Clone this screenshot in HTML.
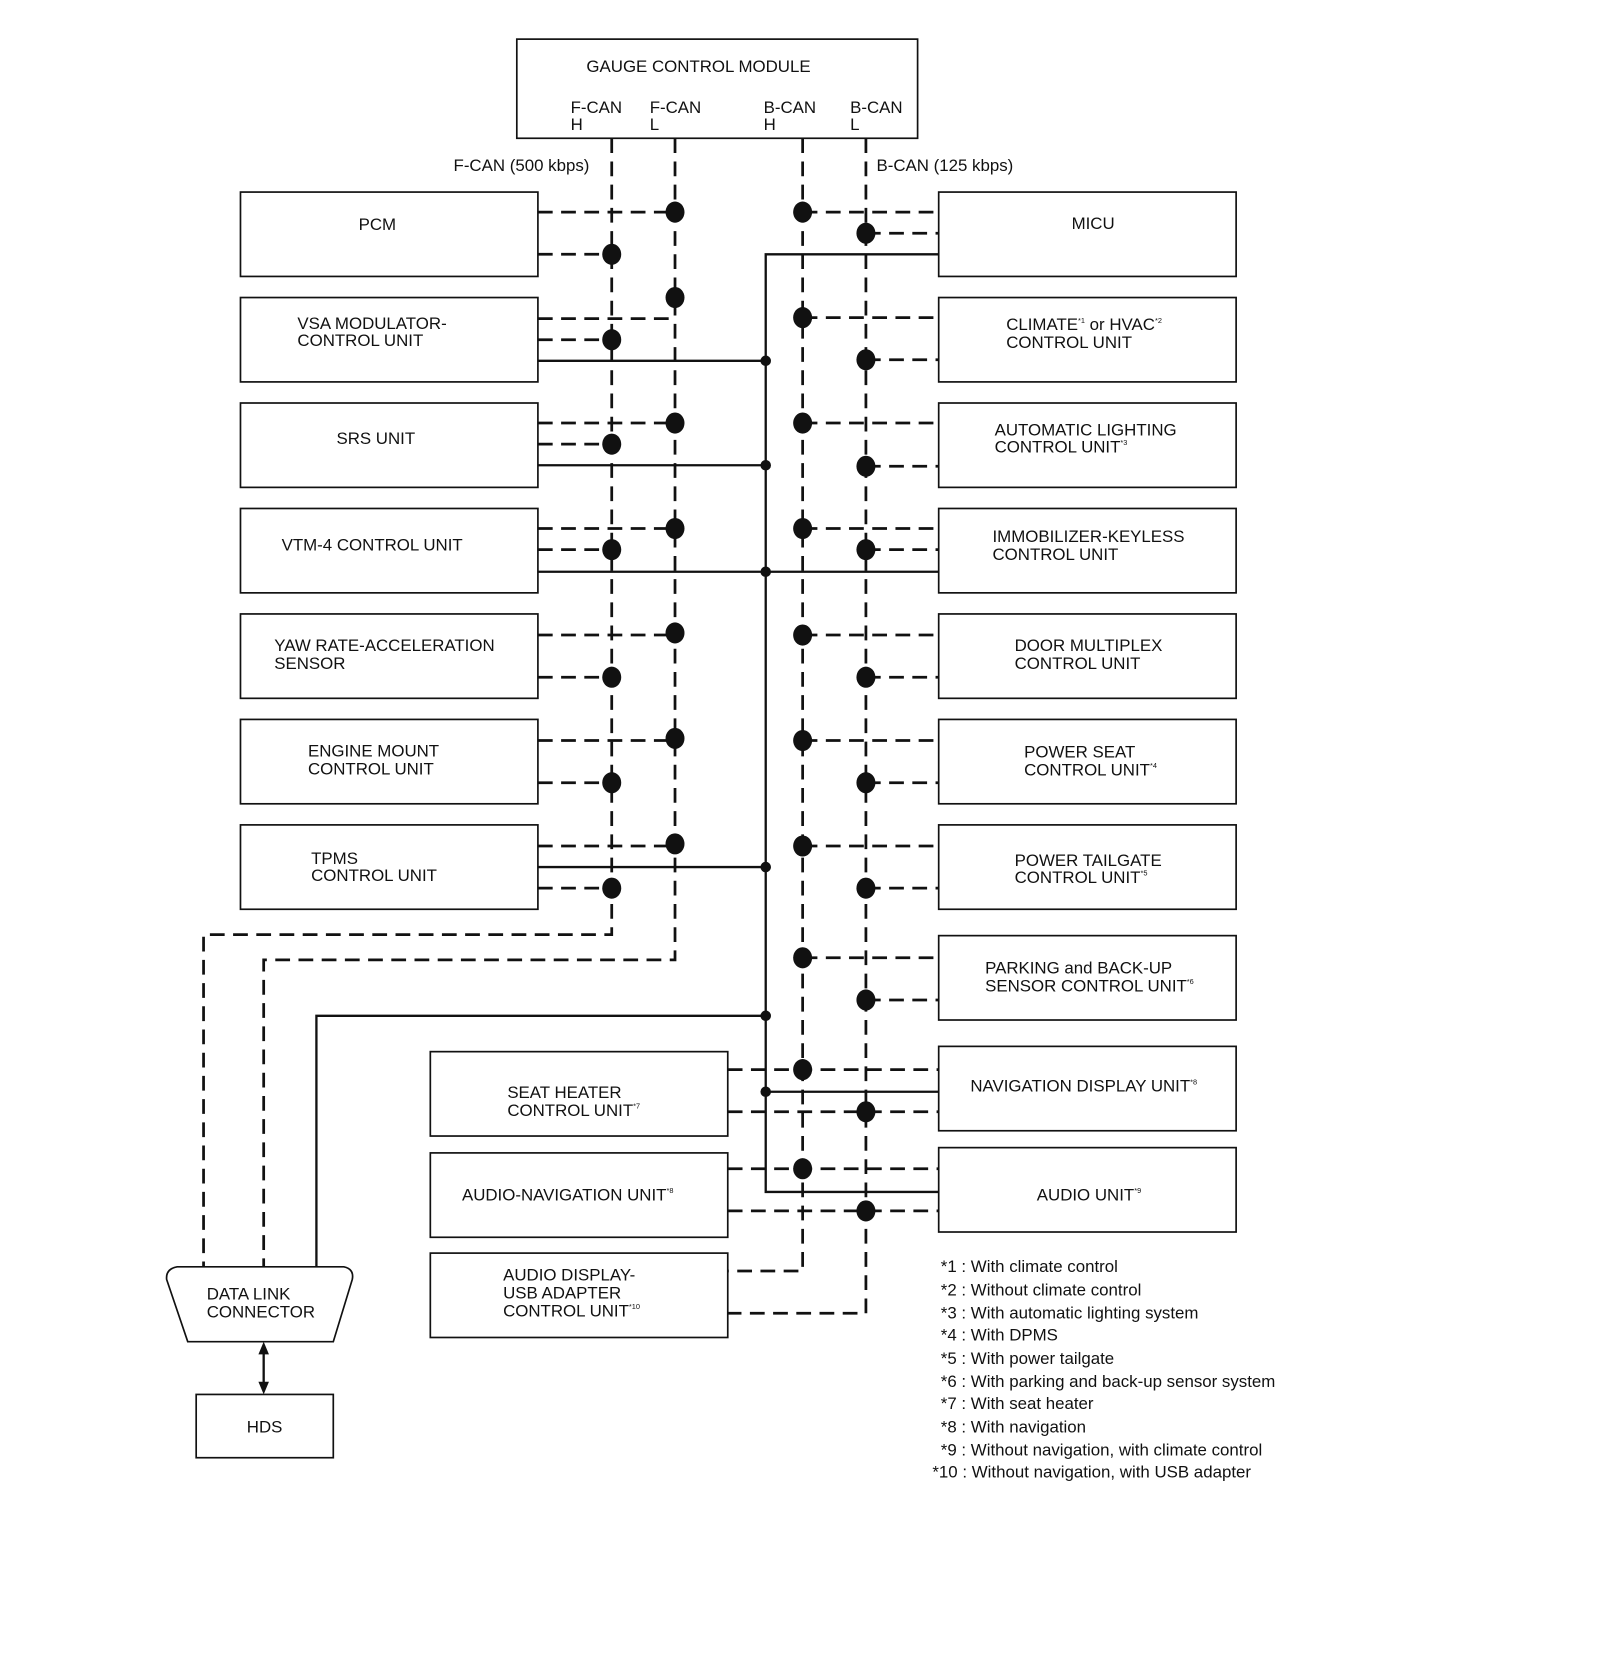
<!DOCTYPE html>
<html><head><meta charset="utf-8"><style>
html,body{margin:0;padding:0;background:#fff;}
svg{display:block;}
text{font-family:"Liberation Sans",Arial,sans-serif;font-size:16px;fill:#111;}
.s{font-size:7px;}
</style></head><body>
<svg width="1600" height="1654" viewBox="0 0 1517 1568" xmlns="http://www.w3.org/2000/svg">
<g fill="none" stroke="#111" stroke-width="1.6">
<rect x="490" y="37" width="380" height="94"/>
<rect x="228" y="182" width="282" height="80"/>
<rect x="228" y="282" width="282" height="80"/>
<rect x="228" y="382" width="282" height="80"/>
<rect x="228" y="482" width="282" height="80"/>
<rect x="228" y="582" width="282" height="80"/>
<rect x="228" y="682" width="282" height="80"/>
<rect x="228" y="782" width="282" height="80"/>
<rect x="890" y="182" width="282" height="80"/>
<rect x="890" y="282" width="282" height="80"/>
<rect x="890" y="382" width="282" height="80"/>
<rect x="890" y="482" width="282" height="80"/>
<rect x="890" y="582" width="282" height="80"/>
<rect x="890" y="682" width="282" height="80"/>
<rect x="890" y="782" width="282" height="80"/>
<rect x="890" y="887" width="282" height="80"/>
<rect x="890" y="992" width="282" height="80"/>
<rect x="890" y="1088" width="282" height="80"/>
<rect x="408" y="997" width="282" height="80"/>
<rect x="408" y="1093" width="282" height="80"/>
<rect x="408" y="1188" width="282" height="80"/>
<rect x="186" y="1322" width="130" height="60"/>
<path d="M168 1201 L326 1201 Q336 1203 334 1213 L316 1272 L178 1272 L158 1213 Q157 1203 168 1201 Z"/>
</g>
<!-- dashed -->
<g fill="none" stroke="#111" stroke-width="2.6" stroke-dasharray="14 8">
<path d="M580 131 V886 H193 V1201"/>
<path d="M640 131 V910 H250 V1201"/>
<path d="M761 131 V1205 H690"/>
<path d="M821 131 V1245 H690"/>
<!-- left boxes -->
<path d="M510 201 H640 M510 241 H580"/>
<path d="M510 302 H640 M510 322 H580"/>
<path d="M510 401 H640 M510 421 H580"/>
<path d="M510 501 H640 M510 521 H580"/>
<path d="M510 602 H640 M510 642 H580"/>
<path d="M510 702 H640 M510 742 H580"/>
<path d="M510 802 H640 M510 842 H580"/>
<!-- right boxes -->
<path d="M761 201 H890 M821 221 H890"/>
<path d="M761 301 H890 M821 341 H890"/>
<path d="M761 401 H890 M821 442 H890"/>
<path d="M761 501 H890 M821 521 H890"/>
<path d="M761 602 H890 M821 642 H890"/>
<path d="M761 702 H890 M821 742 H890"/>
<path d="M761 802 H890 M821 842 H890"/>
<path d="M761 908 H890 M821 948 H890"/>
<path d="M690 1014 H890 M690 1054 H890"/>
<path d="M690 1108 H890 M690 1148 H890"/>
</g>
<!-- solid -->
<g fill="none" stroke="#111" stroke-width="2.2">
<path d="M890 241 H726 V1130 H890"/>
<path d="M510 342 H726 M510 441 H726 M510 542 H890 M510 822 H726 M726 1035 H890"/>
<path d="M726 963 H300 V1201"/>
<path d="M250 1280 V1314"/>
</g>
<path d="M250 1272 L245 1284 L255 1284 Z M250 1322 L245 1310 L255 1310 Z" fill="#111"/>
<g fill="#111">
<ellipse cx="640" cy="201" rx="9" ry="10"/><ellipse cx="580" cy="241" rx="9" ry="10"/>
<ellipse cx="640" cy="282" rx="9" ry="10"/><ellipse cx="580" cy="322" rx="9" ry="10"/>
<ellipse cx="640" cy="401" rx="9" ry="10"/><ellipse cx="580" cy="421" rx="9" ry="10"/>
<ellipse cx="640" cy="501" rx="9" ry="10"/><ellipse cx="580" cy="521" rx="9" ry="10"/>
<ellipse cx="640" cy="600" rx="9" ry="10"/><ellipse cx="580" cy="642" rx="9" ry="10"/>
<ellipse cx="640" cy="700" rx="9" ry="10"/><ellipse cx="580" cy="742" rx="9" ry="10"/>
<ellipse cx="640" cy="800" rx="9" ry="10"/><ellipse cx="580" cy="842" rx="9" ry="10"/>
<ellipse cx="761" cy="201" rx="9" ry="10"/><ellipse cx="821" cy="221" rx="9" ry="10"/>
<ellipse cx="761" cy="301" rx="9" ry="10"/><ellipse cx="821" cy="341" rx="9" ry="10"/>
<ellipse cx="761" cy="401" rx="9" ry="10"/><ellipse cx="821" cy="442" rx="9" ry="10"/>
<ellipse cx="761" cy="501" rx="9" ry="10"/><ellipse cx="821" cy="521" rx="9" ry="10"/>
<ellipse cx="761" cy="602" rx="9" ry="10"/><ellipse cx="821" cy="642" rx="9" ry="10"/>
<ellipse cx="761" cy="702" rx="9" ry="10"/><ellipse cx="821" cy="742" rx="9" ry="10"/>
<ellipse cx="761" cy="802" rx="9" ry="10"/><ellipse cx="821" cy="842" rx="9" ry="10"/>
<ellipse cx="761" cy="908" rx="9" ry="10"/><ellipse cx="821" cy="948" rx="9" ry="10"/>
<ellipse cx="761" cy="1014" rx="9" ry="10"/><ellipse cx="821" cy="1054" rx="9" ry="10"/>
<ellipse cx="761" cy="1108" rx="9" ry="10"/><ellipse cx="821" cy="1148" rx="9" ry="10"/>
<circle cx="726" cy="342" r="5"/><circle cx="726" cy="441" r="5"/><circle cx="726" cy="542" r="5"/>
<circle cx="726" cy="822" r="5"/><circle cx="726" cy="963" r="5"/><circle cx="726" cy="1035" r="5"/>
</g>
<g>
<text x="556" y="68">GAUGE CONTROL MODULE</text>
<text x="541" y="107">F-CAN</text><text x="541" y="123">H</text>
<text x="616" y="107">F-CAN</text><text x="616" y="123">L</text>
<text x="724" y="107">B-CAN</text><text x="724" y="123">H</text>
<text x="806" y="107">B-CAN</text><text x="806" y="123">L</text>
<text x="430" y="162">F-CAN (500 kbps)</text>
<text x="831" y="162">B-CAN (125 kbps)</text>
<text x="340" y="218">PCM</text>
<text x="282" y="312">VSA MODULATOR-</text><text x="282" y="328">CONTROL UNIT</text>
<text x="319" y="421">SRS UNIT</text>
<text x="267" y="522">VTM-4 CONTROL UNIT</text>
<text x="260" y="617">YAW RATE-ACCELERATION</text><text x="260" y="634">SENSOR</text>
<text x="292" y="717">ENGINE MOUNT</text><text x="292" y="734">CONTROL UNIT</text>
<text x="295" y="819">TPMS</text><text x="295" y="835">CONTROL UNIT</text>
<text x="1016" y="217">MICU</text>
<text x="954" y="313">CLIMATE<tspan class="s" dy="-7">*1</tspan><tspan dy="7"> or HVAC</tspan><tspan class="s" dy="-7">*2</tspan></text><text x="954" y="330">CONTROL UNIT</text>
<text x="943" y="413">AUTOMATIC LIGHTING</text><text x="943" y="429">CONTROL UNIT<tspan class="s" dy="-7">*3</tspan></text>
<text x="941" y="514">IMMOBILIZER-KEYLESS</text><text x="941" y="531">CONTROL UNIT</text>
<text x="962" y="617">DOOR MULTIPLEX</text><text x="962" y="634">CONTROL UNIT</text>
<text x="971" y="718">POWER SEAT</text><text x="971" y="735">CONTROL UNIT<tspan class="s" dy="-7">*4</tspan></text>
<text x="962" y="821">POWER TAILGATE</text><text x="962" y="837">CONTROL UNIT<tspan class="s" dy="-7">*5</tspan></text>
<text x="934" y="923">PARKING and BACK-UP</text><text x="934" y="940">SENSOR CONTROL UNIT<tspan class="s" dy="-7">*6</tspan></text>
<text x="920" y="1035">NAVIGATION DISPLAY UNIT<tspan class="s" dy="-7">*8</tspan></text>
<text x="983" y="1138">AUDIO UNIT<tspan class="s" dy="-7">*9</tspan></text>
<text x="481" y="1041">SEAT HEATER</text><text x="481" y="1058">CONTROL UNIT<tspan class="s" dy="-7">*7</tspan></text>
<text x="438" y="1138">AUDIO-NAVIGATION UNIT<tspan class="s" dy="-7">*8</tspan></text>
<text x="477" y="1214">AUDIO DISPLAY-</text><text x="477" y="1231">USB ADAPTER</text><text x="477" y="1248">CONTROL UNIT<tspan class="s" dy="-7">*10</tspan></text>
<text x="196" y="1232">DATA LINK</text><text x="196" y="1249">CONNECTOR</text>
<text x="234" y="1358">HDS</text>
<text x="892" y="1206">*1 : With climate control</text>
<text x="892" y="1228">*2 : Without climate control</text>
<text x="892" y="1250">*3 : With automatic lighting system</text>
<text x="892" y="1271">*4 : With DPMS</text>
<text x="892" y="1293">*5 : With power tailgate</text>
<text x="892" y="1315">*6 : With parking and back-up sensor system</text>
<text x="892" y="1336">*7 : With seat heater</text>
<text x="892" y="1358">*8 : With navigation</text>
<text x="892" y="1380">*9 : Without navigation, with climate control</text>
<text x="884" y="1401">*10 : Without navigation, with USB adapter</text>
</g>
</svg>
</body></html>
